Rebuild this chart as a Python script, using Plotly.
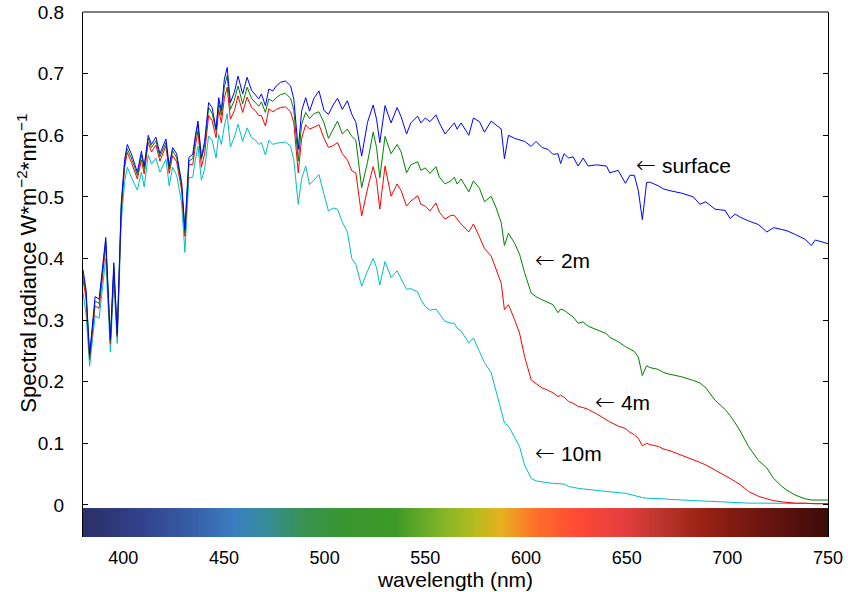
import plotly.graph_objects as go

# Wavelength grid (nm) shared by the four depth profiles
wavelength = [
    380, 381.5, 383.3, 386, 388, 391.3, 393.6, 395.3, 397, 399, 400.7, 402, 404, 407, 409,
    410.4, 412.4, 414, 416.2, 418.2, 421.2, 422.8, 424.5, 426.5, 429, 430.6, 432.6, 434.5,
    435.8, 437.1, 438.8, 440.4, 442.4, 444.1, 446.1, 447.4, 448.7, 450.2, 451.6, 453.2,
    455.2, 457, 459.3, 461.5, 463.7, 465.6, 467.3, 468.6, 470.6, 472.3, 474.3, 476, 478.1,
    480.6, 483.1, 484.7, 486.9, 488.6, 490.6, 492.5, 494.7, 497.2, 499.7, 501.9, 504.2,
    506.4, 508.8, 511.3, 513.5, 515.5, 518.4, 521.3, 524.1, 525.8, 527.4, 530, 533, 536,
    538, 540.7, 542.8, 546.2, 547.8, 550, 552.3, 555.3, 557, 559.8, 562.8, 564.4, 565.8,
    567.8, 571.6, 573.9, 576.9, 579.4, 582.7, 585.2, 587.7, 589.3, 591.3, 594.3, 596.8,
    599.3, 602.6, 605, 608, 611, 613.4, 615.9, 617.2, 618.9, 621.2, 623.4, 625.9, 628.4,
    630.9, 635, 640, 641.6, 645.8, 649.4, 651.6, 653.8, 655.8, 657.8, 659.9, 661.5, 665.7,
    668.2, 671.5, 677.3, 683.1, 686.4, 689.3, 693.9, 698.9, 701.4, 703.9, 706.4, 710.5,
    715.5, 719.6, 723, 727.1, 729.6, 733.7, 738.7, 741.7, 743.7, 750,
]

# Spectral radiance (W m^-2 nm^-1) at each depth
surface = [
    .382, .350, .244, .338, .334, .434, .268, .393, .277, .490, .561, .585, .570, .540, .574,
    .550, .600, .585, .597, .570, .594, .550, .580, .570, .523, .447, .564, .569,
    .599, .623, .564, .590, .653, .645, .610, .661, .640, .691, .710, .653,
    .670, .696, .667, .694, .673, .665, .659, .667, .648, .675, .672, .680, .686,
    .688, .680, .659, .577, .640, .661, .639, .660, .672, .640, .634, .649,
    .660, .642, .656, .634, .621, .566, .621, .649, .626, .588, .648, .620, .645,
    .630, .602, .620, .631, .620, .628, .622, .633, .620, .602, .615, .620, .610,
    .620, .600, .628, .622, .605, .623, .617, .610, .562, .600, .595, .592,
    .590, .582, .590, .580, .577, .569, .570, .554, .570, .563, .565, .550, .563,
    .550, .552, .550, .539, .543, .522, .535, .535, .510, .463, .523, .524, .518,
    .513, .510, .506, .500, .488, .492, .480, .478, .465, .472, .467, .461,
    .455, .443, .450, .447, .445, .439, .431, .421, .430, .424,
]

depth_2m = [
    .374, .343, .240, .331, .327, .429, .265, .386, .275, .484, .555, .578, .563, .535, .568,
    .545, .595, .580, .591, .565, .588, .545, .575, .564, .518, .442, .558, .562,
    .594, .618, .561, .583, .645, .636, .607, .653, .632, .678, .697, .642,
    .657, .680, .651, .678, .660, .654, .647, .654, .637, .659, .655, .661, .666,
    .668, .660, .641, .558, .618, .637, .627, .635, .638, .620, .595, .610,
    .623, .602, .610, .598, .592, .515, .556, .605, .580, .531, .598, .570, .585,
    .573, .539, .552, .557, .543, .547, .538, .549, .532, .521, .526, .532, .521,
    .529, .508, .526, .514, .492, .501, .482, .458, .421, .441, .425, .407,
    .377, .344, .338, .333, .328, .325, .312, .318, .316, .310, .305, .295, .297,
    .290, .285, .278, .272, .265, .257, .253, .249, .240, .210, .226, .223, .220,
    .215, .212, .208, .202, .198, .190, .170, .155, .145, .133, .120, .095,
    .072, .060, .043, .030, .024, .016, .010, .008, .008, .008,
]

depth_4m = [
    .366, .335, .236, .323, .319, .421, .262, .378, .273, .478, .548, .572, .556, .529, .560,
    .537, .588, .573, .584, .558, .583, .538, .567, .557, .511, .436, .553, .552,
    .582, .607, .548, .570, .632, .624, .596, .642, .620, .660, .678, .626,
    .640, .664, .637, .662, .645, .640, .632, .632, .615, .643, .638, .642, .645,
    .646, .638, .620, .539, .595, .617, .610, .613, .617, .595, .580, .583,
    .588, .570, .560, .542, .539, .469, .513, .549, .527, .480, .550, .501, .521,
    .510, .485, .493, .502, .488, .485, .477, .490, .475, .464, .470, .470, .464,
    .456, .443, .456, .435, .416, .404, .382, .360, .317, .325, .301, .279,
    .241, .203, .197, .190, .186, .182, .176, .178, .175, .168, .165, .160, .158,
    .155, .148, .138, .135, .128, .124, .118, .114, .108, .096, .100, .098, .095,
    .091, .088, .081, .074, .069, .065, .057, .048, .043, .038, .033, .022,
    .014, .010, .007, .005, .004, .003, .003, .002, .002, .002,
]

depth_10m = [
    .345, .310, .225, .307, .303, .400, .248, .362, .262, .460, .525, .548, .532, .511, .540,
    .516, .568, .553, .563, .540, .561, .518, .548, .535, .490, .410, .531, .532,
    .560, .582, .527, .545, .599, .592, .563, .601, .585, .615, .635, .581,
    .597, .618, .590, .612, .596, .592, .585, .588, .568, .592, .585, .587, .588,
    .589, .582, .560, .488, .530, .550, .520, .527, .536, .504, .477, .482,
    .480, .459, .443, .400, .390, .355, .380, .400, .385, .357, .395, .369, .380,
    .367, .350, .351, .346, .333, .322, .316, .318, .310, .298, .295, .295, .287,
    .282, .263, .271, .249, .231, .215, .183, .149, .133, .128, .110, .095,
    .065, .043, .039, .037, .036, .035, .035, .034, .034, .030, .028, .027, .026,
    .025, .024, .022, .021, .020, .019, .017, .015, .013, .012, .011, .011, .010,
    .010, .009, .008, .007, .007, .006, .005, .005, .004, .004, .004, .003,
    .003, .003, .002, .002, .002, .002, .002, .002, .002, .002,
]

# Visible-spectrum strip drawn along the bottom of the axes
spectrum_nm = [380, 410, 440, 455, 470, 490, 510, 535, 560, 575, 588, 605, 625, 648, 665, 690, 720, 750]
spectrum_colors = [
    "#2a2f68", "#32428c", "#3766ae", "#3a7ec0", "#368c9c", "#38924e", "#389630",
    "#3c9a28", "#86b628", "#b8bc1e", "#e8b020", "#ff6e2a", "#ff4a36", "#e63e3e",
    "#c03630", "#962012", "#681410", "#3a0c08",
]
strip_bottom, strip_top = -0.052, -0.005

series = [
    ("10m", depth_10m, "rgb(0,191,191)"),
    ("4m", depth_4m, "rgb(255,0,0)"),
    ("2m", depth_2m, "rgb(0,128,0)"),
    ("surface", surface, "rgb(0,0,255)"),
]

labels = [
    ("surface", 653.5, 0.551),
    ("2m", 603.4, 0.398),
    ("4m", 633.4, 0.167),
    ("10m", 603.4, 0.085),
]

y_title = "Spectral radiance W*m<sup>\u22122</sup>*nm<sup>\u22121</sup>"

fig = go.Figure()

lo, hi = spectrum_nm[0], spectrum_nm[-1]
strip_x = list(range(lo, hi + 1))
fig.add_trace(go.Heatmap(
    x=[v - 0.5 for v in strip_x] + [hi + 0.5],
    y=[strip_bottom, strip_top],
    z=[strip_x],
    zmin=lo, zmax=hi,
    colorscale=[[(n - lo) / (hi - lo), c] for n, c in zip(spectrum_nm, spectrum_colors)],
    showscale=False,
    hoverinfo="skip",
))

for name, values, color in series:
    fig.add_trace(go.Scatter(
        x=wavelength, y=values, mode="lines", name=name,
        line=dict(color=color, width=1),
    ))

arrow = '<span style="font-family:DejaVu Sans;font-weight:200;font-size:24px">\u2190</span>'
for text, x, y in labels:
    fig.add_annotation(
        x=x, y=y, text=arrow + " " + text, showarrow=False,
        xanchor="left", yanchor="middle",
        font=dict(size=21, color="black"),
    )

# vertical axis title, placed beside the tick labels
fig.add_annotation(
    xref="paper", yref="paper", x=-0.0755, y=0.522,
    text=y_title, textangle=-90, showarrow=False,
    xanchor="center", yanchor="middle",
    font=dict(size=22, color="black"),
)

# top border of the axes box
fig.add_shape(type="line", xref="paper", yref="paper", x0=0, x1=1, y0=1, y1=1,
              line=dict(color="black", width=1))

fig.update_layout(
    width=848, height=592,
    margin=dict(l=83, r=20, t=12, b=55, autoexpand=False),
    paper_bgcolor="white", plot_bgcolor="white",
    showlegend=False,
    font=dict(family="Liberation Sans, Arial, sans-serif", size=18, color="black"),
    xaxis=dict(
        range=[380, 750], tickmode="array",
        tickvals=[400, 450, 500, 550, 600, 650, 700, 750],
        ticks="outside", ticklen=4, tickcolor="rgba(0,0,0,0)",
        tickfont=dict(size=18), automargin=False,
        showgrid=False, zeroline=False, showline=False,
        title=dict(text="wavelength (nm)", font=dict(size=21), standoff=1),
    ),
    yaxis=dict(
        range=[-0.052, 0.8], tick0=0, dtick=0.1,
        ticks="inside", ticklen=5, tickcolor="black",
        tickfont=dict(size=19), ticklabelstandoff=14, automargin=False,
        showgrid=False, zeroline=False,
        showline=True, linecolor="black", linewidth=1, mirror="ticks",
    ),
)

fig.write_html("out.html")
